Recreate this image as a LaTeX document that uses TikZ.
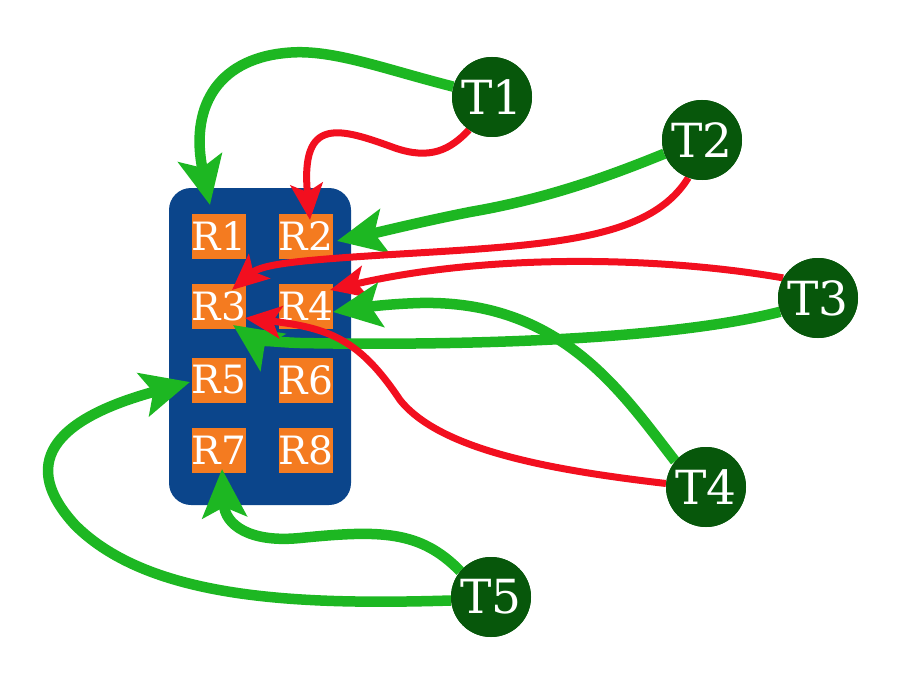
\documentclass[tikz,border=0pt]{standalone}
\usepackage{fontspec}
\setmainfont{DejaVu Serif}
\usetikzlibrary{arrows.meta}
\definecolor{boardblue}{HTML}{0B458B}
\definecolor{rorange}{HTML}{F47B20}
\definecolor{tgreen}{HTML}{07570B}
\definecolor{lgreen}{HTML}{1DB722}
\definecolor{lred}{HTML}{F20F1F}
\tikzset{
  rbox/.style={fill=rorange, text=white, inner sep=0pt, minimum width=52pt, minimum height=45pt, font=\fontsize{39}{40}\selectfont},
  tnode/.style={circle, fill=tgreen, text=white, inner sep=0pt, minimum size=80pt, font=\fontsize{47}{48}\selectfont},
  garrow/.style={draw=lgreen, line width=10.5pt, -{Stealth[length=48pt,width=44pt,inset=10pt]}},
  rarrow/.style={draw=lred, line width=7pt, -{Stealth[length=36pt,width=32pt,inset=8pt]}},
}
\begin{document}
\begin{tikzpicture}[x=1pt,y=-1pt]
\useasboundingbox (0,0) rectangle (910,698);
\node[fill=boardblue, rounded corners=22pt, minimum width=182pt, minimum height=317pt, inner sep=0pt] (board) at (260,346.5) {};
\node[rbox] (R1) at (219,236) {R1};
\node[rbox] (R2) at (306,236) {R2};
\node[rbox] (R3) at (219,306) {R3};
\node[rbox] (R4) at (306,306) {R4};
\node[rbox] (R5) at (219,380) {R5};
\node[rbox] (R6) at (306,380) {R6};
\node[rbox] (R7) at (219,450) {R7};
\node[rbox] (R8) at (306,450) {R8};
\path (492,97) node[tnode] (T1) {}
      (702,140) node[tnode] (T2) {}
      (818,298) node[tnode] (T3) {}
      (706,487) node[tnode] (T4) {}
      (491,597) node[tnode] (T5) {};
% connectors
\draw[garrow] (T1.165) .. controls (380,68) and (330,48) .. (285,53) .. controls (215,60) and (190,110) .. ([shift={(-9,-31)}]R1.center);
\draw[rarrow] (T1.235) .. controls (450,150) and (430,160) .. (395,148) .. controls (340,128) and (300,115) .. ([shift={(4,-16)}]R2.center);
\draw[garrow] (T2.200) .. controls (600,180) and (540,200) .. (470,212) .. controls (420,222) and (380,232) .. ([shift={(31,5)}]R2.center);
\draw[rarrow] (T2.250) .. controls (650,240) and (550,245) .. (400,254) .. controls (300,260) and (262,264) .. ([shift={(13,-16)}]R3.center);
\draw[rarrow] (T3.150) .. controls (650,255) and (480,255) .. ([shift={(24,-16)}]R4.center);
\draw[garrow] (T3.200) .. controls (650,345) and (400,345) .. (300,343) .. controls (270,342) and (252,338) .. ([shift={(14,19)}]R3.center);
\draw[garrow] (T4.140) .. controls (620,390) and (560,300) .. (420,303) .. controls (385,304) and (360,308) .. ([shift={(27,6)}]R4.center);
\draw[rarrow] (T4.175) .. controls (550,470) and (440,450) .. (400,400) .. controls (360,340) and (330,328) .. ([shift={(26,12)}]R3.center);
\draw[garrow] (T5.185) .. controls (300,605) and (150,600) .. (75,525) .. controls (20,465) and (50,420) .. ([shift={(-29,2)}]R5.center);
\draw[garrow] (T5.140) .. controls (420,530) and (380,530) .. (300,538) .. controls (250,543) and (225,525) .. ([shift={(3,19)}]R7.center);
% labels on top
\node[tnode] at (T1) {T1};
\node[tnode] at (T2) {T2};
\node[tnode] at (T3) {T3};
\node[tnode] at (T4) {T4};
\node[tnode] at (T5) {T5};
\end{tikzpicture}
\end{document}
